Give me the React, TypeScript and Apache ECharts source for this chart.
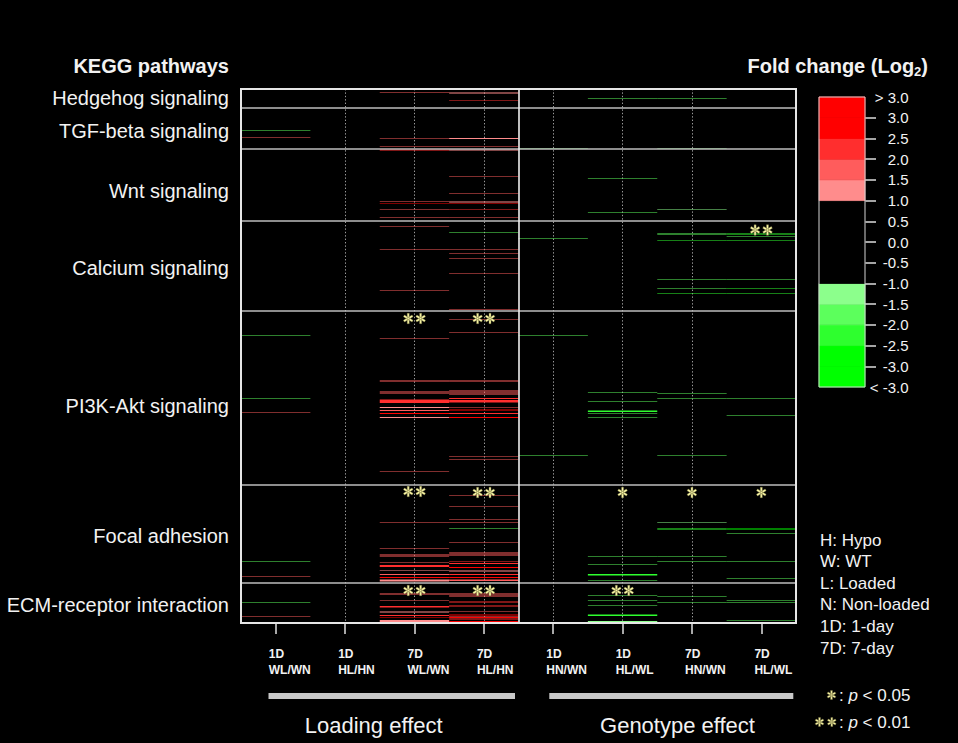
import React, { useEffect, useRef } from "react";
import * as echarts from "echarts";

// ---------------- DATA ----------------
const columnDays = ["1D", "1D", "7D", "7D", "1D", "1D", "7D", "7D"];
const columnPairs = ["WL/WN", "HL/HN", "WL/WN", "HL/HN", "HN/WN", "HL/WL", "HN/WN", "HL/WL"];

const pathways = [
  "Hedgehog signaling",
  "TGF-beta signaling",
  "Wnt signaling",
  "Calcium signaling",
  "PI3K-Akt signaling",
  "Focal adhesion",
  "ECM-receptor interaction",
];
// genes (rows) per pathway, top to bottom
const pathwayGeneCounts = [37, 83, 144, 179, 349, 195, 81];

// each entry: [gene row (from top), number of adjacent rows, log2 fold change]
const col1D_WL_WN = [
  [82, 1, -1.8], [97, 1, 1.7], [493, 1, -1.8], [619, 1, -1.8], [647, 1, 1.7],
  [945, 1, -1.8], [974, 1, 1.7], [1027, 1, -1.8], [1055, 1, 1.7],
];
const col1D_HL_HN: number[][] = [];
const col7D_WL_WN = [
  [7, 1, 1.7], [98, 1, 1.6], [115, 1, 1.7], [121, 2, 2.2],
  [225, 1, 1.7], [229, 1, 3.2], [240, 1, 1.8], [256, 1, 1.7],
  [274, 1, 1.7], [320, 1, 1.7], [402, 1, 1.7],
  [499, 1, 1.7], [583, 1, 1.7], [585, 1, 1.7], [605, 1, 1.8], [607, 1, 1.8], [609, 1, 1.8],
  [620, 1, 2.2], [622, 6, 2.3], [636, 2, 1.2], [642, 2, 1.6], [648, 2, 2.6], [656, 2, 1.2], [764, 1, 1.7],
  [867, 1, 1.7], [919, 1, 1.7], [931, 1, 1.8], [933, 1, 1.8], [935, 1, 1.8], [946, 1, 1.8],
  [952, 4, 2.3], [963, 1, 1.3], [970, 2, 1.8], [976, 2, 2.6], [981, 4, 1.2],
  [1009, 1, 1.8], [1011, 1, 1.8], [1022, 1, 1.8], [1034, 3, 2.3], [1045, 2, 1.2],
  [1052, 2, 2.3], [1057, 1, 2.6], [1062, 6, 1.2],
];
const col7D_HL_HN = [
  [7, 2, 1.2], [22, 1, 2.2], [98, 2, 1.2], [115, 1, 1.6], [121, 2, 1.4],
  [175, 1, 1.7], [209, 1, 1.7], [225, 2, 1.2], [228, 1, 2.6], [240, 1, 2.2], [256, 1, 1.7],
  [287, 1, -1.8], [320, 1, 1.7], [329, 1, 1.7], [339, 1, 1.7], [369, 1, 1.7], [441, 1, 1.7],
  [461, 1, 1.7], [487, 1, 1.7], [583, 1, 1.7], [585, 1, 1.7], [602, 1, 1.8], [604, 1, 1.8],
  [606, 1, 1.8], [608, 1, 1.8], [610, 1, 1.8], [618, 2, 2.1], [622, 5, 2.3], [636, 1, 1.6],
  [641, 2, 2.6], [648, 2, 2.3], [656, 2, 2.6], [735, 1, 1.7], [741, 1, 1.7],
  [813, 1, 1.7], [835, 1, 1.7], [861, 1, 1.7], [867, 1, 1.7], [879, 1, -1.8], [907, 1, 1.7],
  [927, 1, 1.8], [929, 1, 1.8], [931, 1, 1.8], [933, 1, 1.8], [944, 1, 2.2], [948, 2, 2.3],
  [956, 2, 2.6], [963, 2, 1.3], [970, 2, 2.3], [976, 2, 2.6], [981, 3, 1.8],
  [1008, 1, 1.8], [1010, 1, 1.8], [1012, 1, 1.8], [1014, 1, 1.8], [1025, 2, 2.2], [1033, 2, 2.3],
  [1045, 1, 1.6], [1051, 2, 2.6], [1054, 1, 1.8], [1056, 2, 2.6], [1059, 2, 2.3], [1064, 4, 2.6],
];
const col1D_HN_WN = [[118, 1, -1.6], [299, 1, -1.8], [493, 1, -1.8], [732, 1, -1.8]];
const col1D_HL_WL = [
  [19, 1, -1.7], [178, 1, -1.7], [247, 1, -1.8], [607, 1, -1.8], [625, 1, -1.8], [643, 3, -2.3],
  [648, 1, -1.7], [657, 1, -1.8], [934, 1, -1.8], [951, 1, -1.8], [970, 3, -2.3], [982, 1, -1.8],
  [1013, 1, -1.8], [1023, 1, -1.8], [1033, 1, -1.8], [1051, 3, -2.3], [1064, 4, -1.2],
];
const col7D_HN_WN = [
  [19, 1, -1.7], [118, 1, -1.6], [240, 1, -1.3], [289, 2, -1.8], [303, 1, -2.2], [380, 1, -1.8],
  [399, 1, -1.8], [409, 1, -2.2], [609, 1, -1.8], [619, 1, -1.8], [732, 1, -1.8], [867, 1, -1.4],
  [879, 2, -2.2], [935, 1, -1.8], [945, 1, -1.8], [1015, 1, -1.8], [1027, 1, -1.8],
];
const col7D_HL_WL = [
  [289, 2, -2.2], [295, 1, -1.8], [303, 1, -2.2], [380, 1, -1.8], [399, 1, -2.2], [409, 1, -2.2],
  [619, 1, -1.8], [653, 1, -1.8], [879, 2, -2.6], [889, 1, -1.8], [945, 1, -1.8], [979, 1, -1.8],
  [1023, 1, -1.8], [1027, 1, -1.8], [1062, 1, -1.8],
];

// significance marks: [column, gene row, number of stars]
const significance = [
  [7, 282, 2],
  [2, 459, 2], [3, 459, 2],
  [2, 805, 2], [3, 807, 2], [5, 807, 1], [6, 807, 1], [7, 807, 1],
  [2, 1003, 2], [3, 1003, 2], [5, 1003, 2],
];

const legendTicks = [-3.5, -3, -2.5, -2, -1.5, -1, -0.5, 0, 0.5, 1, 1.5, 2, 2.5, 3, 3.5];
const abbreviations = ["H: Hypo", "W: WT", "L: Loaded", "N: Non-loaded", "1D: 1-day", "7D: 7-day"];
const pValueNotes = [["0.05", 1], ["0.01", 2]];
const effectGroups = ["Loading effect", "Genotype effect"];

// ---------------- STYLE / LAYOUT ----------------
const FONT = "'Liberation Sans', Arial, Helvetica, sans-serif";
const TEXT = "#f2f2f2";
const STAR_FILL = "#fcf8a8";
const STAR_STROKE = "#77733e";

function foldColor(v: number): string {
  if (v >= 2.5) return "#ff0000";
  if (v >= 2) return "#ff2e2e";
  if (v >= 1.5) return "#ff5c5c";
  if (v >= 1) return "#ff8c8c";
  if (v > -1) return "#000000";
  if (v > -1.5) return "#8cff8c";
  if (v > -2) return "#5cff5c";
  if (v > -2.5) return "#2eff2e";
  return "#00ff00";
}

const ASTERISK_D =
  "M-1 -5L1 -5L1 5L-1 5Z M-4.83 -1.634L-3.83 -3.366L4.83 1.634L3.83 3.366Z M-3.83 3.366L-4.83 1.634L3.83 -3.366L4.83 -1.634Z";

let shapeRegistered = false;
function registerAsterisk() {
  if (shapeRegistered) return;
  echarts.graphic.registerShape("asterisk", echarts.graphic.extendPath(ASTERISK_D, {}));
  shapeRegistered = true;
}

const pathwayLabelY = [98, 131, 191, 268, 406, 536, 605];
const abbrevY = [540, 561.7, 583.2, 604.4, 626.4, 648];
const effectBars = [
  { x1: 268.5, x2: 515, cx: 373.7 },
  { x1: 549.3, x2: 793.3, cx: 677.5 },
];

export default function App() {
  const ref = useRef<HTMLDivElement>(null);

  useEffect(() => {
    if (!ref.current) return;
    registerAsterisk();
    const chart = echarts.init(ref.current, null, { renderer: "svg" });

    const columnLines = [
      col1D_WL_WN, col1D_HL_HN, col7D_WL_WN, col7D_HL_HN,
      col1D_HN_WN, col1D_HL_WL, col7D_HN_WN, col7D_HL_WL,
    ];
    const heatData: number[][] = [];
    columnLines.forEach((arr, c) => arr.forEach(([r, n, v]) => heatData.push([c, r, n, v])));

    const totalGenes = pathwayGeneCounts.reduce((a, b) => a + b, 0);
    const boundaries: number[] = [];
    let acc = 0;
    pathwayGeneCounts.forEach((g, i) => {
      acc += g;
      if (i < pathwayGeneCounts.length - 1) boundaries.push(acc);
    });

    const starData: any[] = [];
    significance.forEach(([c, r, k]) => {
      if (k === 1) starData.push({ value: [c + 0.5, r] });
      else {
        starData.push({ value: [c + 0.5, r], symbolOffset: [-6.2, 0] });
        starData.push({ value: [c + 0.5, r], symbolOffset: [6.2, 0] });
      }
    });

    const bands: number[][] = [];
    for (let i = 0; i < legendTicks.length - 1; i++) bands.push([legendTicks[i], legendTicks[i + 1]]);

    const graphics: any[] = [];
    graphics.push({
      type: "text",
      style: { text: "KEGG pathways", x: 229, y: 66, align: "right", verticalAlign: "middle",
        fontSize: 20, fontWeight: "bold", fontFamily: FONT, fill: TEXT },
    });
    pathways.forEach((p, i) =>
      graphics.push({
        type: "text",
        style: { text: p, x: 229, y: pathwayLabelY[i], align: "right", verticalAlign: "middle",
          fontSize: 20, fontFamily: FONT, fill: TEXT },
      })
    );
    graphics.push({
      type: "text",
      style: {
        text: "{a|Fold change (Log}{b|2}{a|)}",
        x: 928, y: 66, align: "right", verticalAlign: "middle",
        fontFamily: FONT, fill: TEXT,
        rich: {
          a: { fontSize: 20, fontWeight: "bold", lineHeight: 24, fontFamily: FONT, fill: TEXT },
          b: { fontSize: 13, fontWeight: "bold", lineHeight: 11, verticalAlign: "bottom", fontFamily: FONT, fill: TEXT },
        },
      },
    });
    abbreviations.forEach((t, i) =>
      graphics.push({
        type: "text",
        style: { text: t, x: 820, y: abbrevY[i], align: "left", verticalAlign: "middle",
          fontSize: 17, fontFamily: FONT, fill: TEXT },
      })
    );
    pValueNotes.forEach(([p, k], i) => {
      const y = i === 0 ? 695 : 722;
      if (k === 1) {
        graphics.push({ type: "asterisk", x: 831.5, y, scaleX: 0.9, scaleY: 0.9,
          style: { fill: STAR_FILL, stroke: STAR_STROKE, lineWidth: 0.5 } });
      } else {
        graphics.push({ type: "asterisk", x: 819.5, y, scaleX: 0.9, scaleY: 0.9,
          style: { fill: STAR_FILL, stroke: STAR_STROKE, lineWidth: 0.5 } });
        graphics.push({ type: "asterisk", x: 831.8, y, scaleX: 0.9, scaleY: 0.9,
          style: { fill: STAR_FILL, stroke: STAR_STROKE, lineWidth: 0.5 } });
      }
      graphics.push({
        type: "text",
        style: {
          text: ": {i|p} < " + p, x: 839, y, align: "left", verticalAlign: "middle",
          fontSize: 17, fontFamily: FONT, fill: TEXT,
          rich: { i: { fontStyle: "italic", fontSize: 17, fontFamily: FONT, fill: TEXT } },
        },
      });
    });
    effectGroups.forEach((g, i) => {
      const b = effectBars[i];
      graphics.push({ type: "rect", shape: { x: b.x1, y: 693, width: b.x2 - b.x1, height: 6 },
        style: { fill: "#c8c8c8" } });
      graphics.push({
        type: "text",
        style: { text: g, x: b.cx, y: 725, align: "center", verticalAlign: "middle",
          fontSize: 22, fontFamily: FONT, fill: TEXT },
      });
    });

    const option: any = {
      animation: false,
      backgroundColor: "#000000",
      grid: [
        { left: 241, top: 89, width: 555, height: 534, show: true, z: 10,
          backgroundColor: "transparent", borderColor: "#e6e6e6", borderWidth: 2 },
        { left: 819, top: 97, width: 46, height: 290, show: true, z: 10,
          backgroundColor: "transparent", borderColor: "#d4d4d4", borderWidth: 1 },
      ],
      xAxis: [
        {
          gridIndex: 0, type: "value", min: 0, max: 8, interval: 1, position: "bottom",
          axisLine: { show: false, onZero: false },
          axisTick: {
            show: true, customValues: columnDays.map((_, i) => i + 0.5), length: 11,
            lineStyle: { color: "#e0e0e0", width: 1.5 },
          },
          axisLabel: {
            show: true, customValues: columnDays.map((_, i) => i + 0.4),
            formatter: (v: number) => {
              const i = Math.round(v - 0.4);
              return columnDays[i] + "\n" + columnPairs[i];
            },
            align: "left", margin: 23, color: TEXT, fontSize: 12, fontWeight: "bold",
            lineHeight: 16, fontFamily: FONT,
          },
          splitLine: {
            show: true, showMinLine: false, showMaxLine: false,
            lineStyle: { color: "#9a9a9a", width: 1, type: [1.4, 2] },
          },
        },
        { gridIndex: 1, type: "value", min: 0, max: 1, show: false },
      ],
      yAxis: [
        { gridIndex: 0, type: "value", min: 0, max: totalGenes, inverse: true, show: false },
        {
          gridIndex: 1, type: "value", min: -3.5, max: 3.5, interval: 0.5, position: "right",
          axisLine: { show: false, onZero: false }, splitLine: { show: false },
          axisTick: {
            show: true, customValues: legendTicks.slice(1, -1), length: 11,
            lineStyle: { color: "#dcdcdc", width: 1.5 },
          },
          axisLabel: {
            show: true, customValues: legendTicks,
            formatter: (v: number) =>
              v >= 3.5 ? "> 3.0" : v <= -3.5 ? "< -3.0" : v.toFixed(1),
            align: "right", margin: 43.5, color: TEXT, fontSize: 15, fontFamily: FONT,
          },
        },
      ],
      series: [
        {
          type: "custom",
          name: "fold change",
          xAxisIndex: 0, yAxisIndex: 0,
          data: heatData,
          encode: { x: 0, y: 1 },
          renderItem: (params: any, api: any) => {
            const c = api.value(0), r = api.value(1), n = api.value(2), v = api.value(3);
            const p0 = api.coord([c, r]);
            const p1 = api.coord([c + 1, r + n]);
            return {
              type: "rect",
              shape: { x: p0[0], y: p0[1], width: p1[0] - p0[0], height: p1[1] - p0[1] - 0.1 },
              style: { fill: foldColor(v) },
            };
          },
          markLine: {
            silent: true, symbol: ["none", "none"], label: { show: false },
            animation: false,
            data: [
              ...boundaries.map((b) => ({ yAxis: b, lineStyle: { color: "#bdbdbd", width: 1.5, type: "solid" } })),
              { xAxis: 4, lineStyle: { color: "#f0f0f0", width: 1.6, type: "solid" } },
            ],
          },
        },
        {
          type: "scatter",
          name: "significance",
          xAxisIndex: 0, yAxisIndex: 0, z: 5,
          symbol: "path://" + ASTERISK_D,
          symbolSize: [10, 10.4],
          symbolKeepAspect: true,
          itemStyle: { color: STAR_FILL, borderColor: STAR_STROKE, borderWidth: 0.4, opacity: 1 },
          data: starData,
        },
        {
          type: "custom",
          name: "color key",
          xAxisIndex: 1, yAxisIndex: 1,
          data: bands,
          encode: { y: [0, 1] },
          renderItem: (params: any, api: any) => {
            const lo = api.value(0), hi = api.value(1);
            const p0 = api.coord([0, hi]);
            const p1 = api.coord([1, lo]);
            const col = foldColor((lo + hi) / 2);
            return {
              type: "rect",
              shape: { x: p0[0], y: p0[1], width: p1[0] - p0[0], height: p1[1] - p0[1] },
              style: { fill: col, stroke: col, lineWidth: 0.8 },
            };
          },
        },
      ],
      graphic: graphics,
    };

    chart.setOption(option);
    return () => chart.dispose();
  }, []);

  return (
    <div
      ref={ref}
      style={{ position: "absolute", left: 0, top: 0, width: 958, height: 743, background: "#000" }}
    />
  );
}
